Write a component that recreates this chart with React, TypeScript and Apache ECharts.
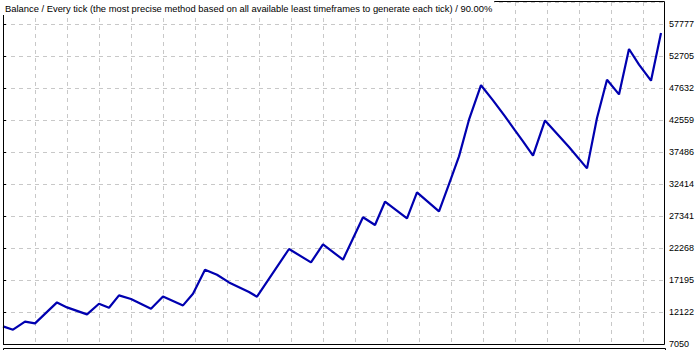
import React, { useEffect, useRef } from "react";
import * as echarts from "echarts";

// trade number (x) and balance (y) at the turning points of the balance curve
const tradeNumbers = [0, 5, 11, 16, 27, 32, 42, 48, 53, 58, 64, 74, 80, 90, 95, 101, 107, 113, 123, 127, 143, 154, 160, 170, 180, 186, 191, 202, 207, 218, 223, 228, 233, 239, 245, 251, 256, 260, 265, 271, 283, 292, 297, 302, 308, 313, 318, 324, 329];
const balances = [9840, 9317, 10585, 10316, 13644, 12852, 11742, 13438, 12804, 14754, 14183, 12646, 14596, 13169, 15024, 18828, 18035, 16815, 15293, 14548, 22109, 19985, 22839, 20413, 27150, 25914, 29607, 26960, 31082, 28070, 32413, 36788, 42606, 48075, 45666, 43129, 40910, 39180, 36899, 42495, 38278, 34886, 42876, 48947, 46617, 53813, 51325, 48788, 56350];
const yTickLabels = ["7050", "12122", "17195", "22268", "27341", "32414", "37486", "42559", "47632", "52705", "57777"];
const titleText = "Balance / Every tick (the most precise method based on all available least timeframes to generate each tick) / 90.00%";

const yMin = 7050;
const yStep = 5072.7;

export default function App() {
  const ref = useRef<HTMLDivElement>(null);
  useEffect(() => {
    if (!ref.current) return;
    const chart = echarts.init(ref.current, undefined, { renderer: "svg" });
    const data = tradeNumbers.map((t, i) => [t, balances[i]]);
    const gridH = 342;
    const yMax = yMin + (yStep * gridH) / 32;
    chart.setOption({
      animation: false,
      backgroundColor: "#ffffff",
      grid: { left: 3, top: 2, width: 661, height: gridH, containLabel: false },
      xAxis: {
        type: "value",
        min: 0,
        max: 330.5,
        interval: 16,
        axisLine: { show: false },
        axisTick: { show: false },
        axisLabel: { show: false },
        splitLine: { show: true, lineStyle: { color: "#c8c8c8", type: [4, 4], width: 1 } },
      },
      yAxis: {
        type: "value",
        position: "right",
        min: yMin,
        max: yMax,
        interval: yStep,
        axisLine: { show: false },
        axisTick: { show: true, inside: false, length: 3, lineStyle: { color: "#000" } },
        axisLabel: {
          show: true,
          showMaxLabel: false,
          margin: 5,
          color: "#000",
          fontFamily: "Liberation Sans",
          fontSize: 9,
          formatter: (v: number) => {
            const idx = Math.round((v - yMin) / yStep);
            return yTickLabels[idx] ?? "";
          },
        },
        splitLine: { show: true, lineStyle: { color: "#c8c8c8", type: [4, 4], width: 1 } },
      },
      series: [
        {
          type: "line",
          data,
          symbol: "none",
          smooth: false,
          lineStyle: { color: "#0000b0", width: 2.2 },
          z: 3,
        },
      ],
      graphic: [
        {
          type: "rect",
          z: 100,
          silent: true,
          shape: { x: 3.5, y: 1.5, width: 661, height: 343 },
          style: { fill: "none", stroke: "#000", lineWidth: 1 },
        },
        {
          type: "polyline",
          z: 100,
          silent: true,
          shape: { points: [[3.5, 351], [3.5, 348.5], [665.5, 348.5], [665.5, 351]] },
          style: { fill: "none", stroke: "#000", lineWidth: 1 },
        },
        {
          type: "text",
          z: 110,
          silent: true,
          x: 3,
          y: 1,
          style: {
            text: titleText,
            fill: "#000",
            font: '9.4px "Liberation Sans"',
            backgroundColor: "#ffffff",
            padding: [3, 2, 2, 2],
          },
        },
      ],
    });
    return () => chart.dispose();
  }, []);
  return <div ref={ref} style={{ width: 700, height: 350, position: "absolute", left: 0, top: 0 }} />;
}
